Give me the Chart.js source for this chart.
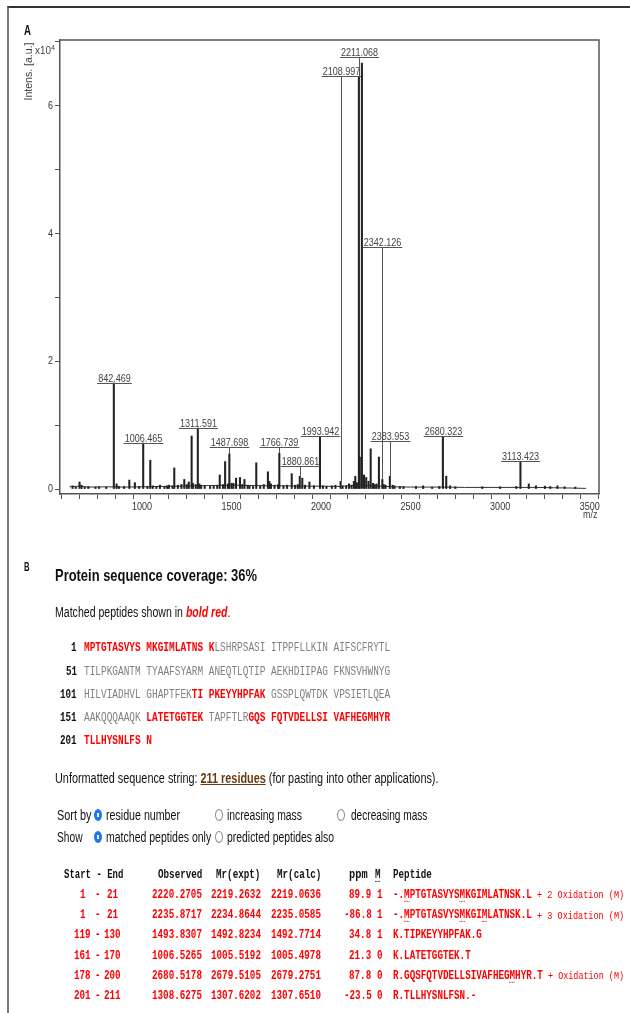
<!DOCTYPE html>
<html>
<head>
<meta charset="utf-8">
<script src="https://cdn.jsdelivr.net/npm/chart.js@4.4.1/dist/chart.umd.min.js"></script>
<style>
  body { margin: 0; background: #fff; width: 630px; height: 1013px; overflow: hidden; position: relative; }
  #spec { position: absolute; left: 0; top: 0; }
  .frame { position: absolute; left: 7px; top: 6px; width: 640px; height: 1020px;
           border-top: 2px solid #333; border-left: 2px solid #777; }
  .t { position: absolute; left: 0; top: 0; white-space: nowrap; line-height: 1;
       font-family: "Liberation Sans", Arial, sans-serif; font-size: 14px; color: #111; }
  .b { font-weight: bold; }
  .big { font-size: 16.5px; font-weight: bold; }
  .narrow { font-size: 11px; color: #444; }
  .mono { font-family: "Courier New", "Liberation Mono", monospace; font-size: 12.5px; }
  .seq { color: #808080; font-size: 12px; }
  .seq r { color: #ff0000; font-weight: bold; }
  .num { color: #111; font-weight: bold; font-size: 12px; }
  .hdr { color: #111; font-weight: bold; }
  .row { color: #ff0000; font-weight: bold; }
  .mod { color: #ff0000; font-size: 11.5px; }
  .mk { text-decoration: underline dotted; text-underline-offset: 3px; }
  .res { color: #6b3a10; font-weight: bold; text-decoration: underline; }
  input.rb { position: absolute; margin: 0; appearance: none; -webkit-appearance: none;
             width: 8px; height: 12px; border: 1px solid #8c8c8c; border-radius: 50%; background: #fff; box-sizing: border-box; }
  input.rb:checked { border-color: #1d78f0; background: radial-gradient(ellipse at center, #fff 0 26%, #1d78f0 34%); }
</style>
</head>
<body>
<canvas id="spec" width="630" height="540"></canvas>
<div class="frame"></div>
<script>
// ---- panel A: MALDI spectrum ----
const peakMz = [612, 630, 651, 662, 680, 700, 740, 760, 800, 842.5, 858, 871, 900, 929, 960, 984, 1006.5, 1030,
  1046, 1060, 1080, 1100, 1125, 1140, 1150, 1170, 1180, 1200, 1220, 1236, 1250, 1261, 1277, 1284, 1300, 1311.6,
  1320, 1330, 1350, 1380, 1400, 1420, 1434, 1452, 1464, 1480, 1487.7, 1500, 1510, 1525, 1547, 1560, 1572, 1590,
  1600, 1620, 1638, 1660, 1680, 1703, 1711, 1720, 1740, 1760, 1766.7, 1790, 1810, 1836, 1855, 1870, 1880.9, 1895,
  1910, 1935, 1960, 1993.9, 2010, 2030, 2060, 2080, 2109, 2120, 2140, 2156, 2170, 2183, 2191, 2200, 2211.1, 2216,
  2228, 2240, 2252, 2265, 2277, 2290, 2300, 2310, 2323, 2342.1, 2350, 2360, 2384, 2400, 2410, 2440, 2460, 2530,
  2570, 2620, 2660, 2680.3, 2699, 2720, 2750, 2900, 3000, 3090, 3113.4, 3160, 3200, 3250, 3280, 3320, 3360, 3420];
const peakInt = [500, 300, 1100, 600, 300, 400, 300, 350, 300, 16600, 800, 400, 400, 1400, 1000, 400, 7200, 400,
  4500, 500, 400, 600, 400, 500, 600, 500, 3300, 600, 700, 1500, 700, 1100, 8300, 900, 700, 9550,
  800, 600, 500, 400, 500, 600, 2200, 700, 4300, 800, 5500, 900, 900, 1700, 1800, 700, 1500, 600,
  500, 400, 4100, 500, 700, 2700, 1200, 800, 600, 700, 5600, 500, 600, 2400, 600, 700, 2000, 1700,
  600, 1100, 500, 8250, 500, 400, 500, 600, 1200, 500, 500, 800, 600, 1200, 2000, 1000, 64500, 5000,
  66700, 2200, 1800, 1200, 6300, 900, 700, 800, 5000, 1500, 700, 600, 2000, 600, 500, 400, 400, 400,
  500, 300, 400, 8250, 2000, 500, 350, 350, 350, 400, 4300, 800, 500, 450, 400, 500, 350, 300];

const baseMz = [595, 650, 700, 800, 900, 1000, 1100, 1200, 1300, 1400, 1500, 1600, 1700, 1800, 1900, 2000, 2100,
  2200, 2300, 2400, 2500, 2600, 2700, 2800, 2900, 3000, 3100, 3200, 3300, 3400, 3480];
const baseInt = [350, 450, 300, 350, 300, 350, 400, 450, 500, 550, 600, 550, 500, 500, 450, 450, 400,
  600, 500, 350, 300, 300, 300, 250, 250, 250, 250, 250, 200, 150, 100];

// annotated peaks: m/z text and the height of the label's underline
const labelMz = [842.469, 1006.465, 1311.591, 1487.698, 1766.739, 1880.861, 1993.942, 2108.997, 2211.068,
  2342.126, 2383.953, 2680.323, 3113.423];
const labelLevel = [16600, 7200, 9550, 6620, 6620, 3600, 8290, 64630, 67650, 37870, 7510, 8290, 4380];

const yTickValues = [0, 10000, 20000, 30000, 40000, 50000, 60000, 70000];
const yTickLabels = ['0', '', '2', '', '4', '', '6', ''];
const xTickValues = [];
for (let v = 600; v <= 3500; v += 100) xTickValues.push(v);
const xTickLabels = xTickValues.map(v => (v % 500 === 0 && v >= 1000 ? String(v) : ''));

const labelFont = '11px "Liberation Sans", Arial, sans-serif';
const squeeze = 0.82;

function narrowText(ctx, text, x, y, align) {
  ctx.save();
  ctx.translate(x, y);
  ctx.scale(squeeze, 1);
  ctx.textAlign = align;
  ctx.fillText(text, 0, 0);
  ctx.restore();
}

const peakLabels = {
  id: 'peakLabels',
  afterDraw(chart) {
    const { ctx, scales: { x, y }, chartArea } = chart;
    ctx.save();
    // frame top and right
    ctx.strokeStyle = '#555';
    ctx.lineWidth = 1.5;
    ctx.beginPath();
    ctx.moveTo(chartArea.left, chartArea.top);
    ctx.lineTo(chartArea.right, chartArea.top);
    ctx.lineTo(chartArea.right, chartArea.bottom);
    ctx.stroke();

    ctx.font = labelFont;
    ctx.textBaseline = 'middle';
    ctx.fillStyle = '#333';
    yTickValues.forEach((v, i) => {
      if (yTickLabels[i]) narrowText(ctx, yTickLabels[i], chartArea.left - 7, y.getPixelForValue(v), 'right');
    });
    xTickValues.forEach((v, i) => {
      if (xTickLabels[i]) narrowText(ctx, xTickLabels[i], x.getPixelForValue(v), 507, 'center');
    });

    ctx.textBaseline = 'alphabetic';
    labelMz.forEach((m, i) => {
      const text = m.toFixed(3);
      const px = Math.round(x.getPixelForValue(m)) + 0.5;
      const py = Math.round(y.getPixelForValue(labelLevel[i])) + 0.5;
      let k = -1;
      peakMz.forEach((pm, j) => { if (Math.abs(pm - m) < 3) k = j; });
      const top = y.getPixelForValue(k >= 0 ? peakInt[k] : 0);
      const w = ctx.measureText(text).width * squeeze;
      ctx.strokeStyle = '#555';
      ctx.lineWidth = 1;
      ctx.beginPath();
      ctx.moveTo(px, py);
      ctx.lineTo(px, top);
      ctx.moveTo(px - w / 2 - 1, py);
      ctx.lineTo(px + w / 2 + 1, py);
      ctx.stroke();
      ctx.fillStyle = '#444';
      narrowText(ctx, text, px, py - 1.5, 'center');
    });
    ctx.restore();
  }
};

new Chart(document.getElementById('spec'), {
  data: {
    datasets: [
      {
        type: 'bar',
        data: peakMz.map((m, i) => ({ x: m, y: peakInt[i] })),
        backgroundColor: '#222',
        barThickness: 1.4,
        grouped: false
      },
      {
        type: 'line',
        data: baseMz.map((m, i) => ({ x: m, y: baseInt[i] })),
        borderColor: '#333',
        borderWidth: 1,
        pointRadius: 0,
        tension: 0
      }
    ]
  },
  options: {
    responsive: false,
    animation: false,
    devicePixelRatio: 1,
    events: [],
    layout: { padding: { left: 30, top: 40, right: 31, bottom: 16 } },
    plugins: { legend: { display: false }, tooltip: { enabled: false } },
    scales: {
      x: {
        type: 'linear',
        min: 592,
        max: 3502,
        afterFit: s => { s.height = 30; },
        afterBuildTicks: s => { s.ticks = xTickValues.map(v => ({ value: v })); },
        border: { display: true, color: '#555', width: 1.5 },
        grid: { drawOnChartArea: false, drawTicks: true, tickLength: 5, color: '#555' },
        ticks: { autoSkip: false, maxRotation: 0, callback: () => '' }
      },
      y: {
        min: -780,
        max: 70300,
        afterFit: s => { s.width = 30; },
        afterBuildTicks: s => { s.ticks = yTickValues.map(v => ({ value: v })); },
        border: { display: true, color: '#555', width: 1.5 },
        grid: { drawOnChartArea: false, drawTicks: true, tickLength: 5, color: '#555' },
        ticks: { autoSkip: false, callback: () => '' }
      }
    }
  },
  plugins: [peakLabels]
});

// ---- text placement helper ----
function put(html, x, yc, opts) {
  opts = opts || {};
  const el = document.createElement('div');
  el.className = 't ' + (opts.cls || '');
  el.innerHTML = html;
  document.body.appendChild(el);
  const r = el.getBoundingClientRect();
  let sx = 1;
  if (opts.w) sx = opts.w / r.width;
  if (opts.cw) sx = opts.cw * el.textContent.length / r.width;
  const w = r.width * sx;
  let left = x;
  if (opts.align === 'right') left = x - w;
  if (opts.align === 'center') left = x - w / 2;
  el.style.left = left + 'px';
  el.style.top = (yc - r.height / 2) + 'px';
  el.style.transformOrigin = '0 50%';
  el.style.transform = 'scaleX(' + sx + ')';
  return el;
}

function radio(cx, cy, checked) {
  const el = document.createElement('input');
  el.type = 'radio';
  el.className = 'rb';
  el.checked = checked;
  el.style.left = (cx - 4) + 'px';
  el.style.top = (cy - 6) + 'px';
  document.body.appendChild(el);
}

// panel A texts
put('A', 24, 30, { cls: 'b', w: 7 });
const yTitle = put('Intens. [a.u.]', 0, 0, { cls: 'narrow' });
(function () {
  const r = yTitle.getBoundingClientRect();
  yTitle.style.left = (28 - r.width / 2) + 'px';
  yTitle.style.top = (71 - r.height / 2) + 'px';
  yTitle.style.transformOrigin = '50% 50%';
  yTitle.style.transform = 'rotate(-90deg) scaleX(' + (58 / r.width) + ')';
})();
put('x10<sup style="font-size:8px;vertical-align:4px">4</sup>', 35, 50, { cls: 'narrow', w: 20 });
put('m/z', 583, 514, { cls: 'narrow', w: 14.5 });

// ---- panel B: protein sequence coverage ----
put('B', 24, 568, { cls: 'b', w: 6.5 }).style.fontSize = '12px';
put('Protein sequence coverage: 36%', 54.5, 575, { cls: 'big', w: 202 });
put('Matched peptides shown in <b><i style="color:#ff0000">bold red</i></b>.', 54.5, 611.7, { w: 175.5 });

const seqNums = ['1', '51', '101', '151', '201'];
const seqLines = [
  '<r>MPTGTASVYS MKGIMLATNS K</r>LSHRPSASI ITPPFLLKIN AIFSCFRYTL',
  'TILPKGANTM TYAAFSYARM ANEQTLQTIP AEKHDIIPAG FKNSVHWNYG',
  'HILVIADHVL GHAPTFEK<r>TI PKEYYHPFAK</r> GSSPLQWTDK VPSIETLQEA',
  'AAKQQQAAQK <r>LATETGGTEK</r> TAPFTLR<r>GQS FQTVDELLSI VAFHEGMHYR</r>',
  '<r>TLLHYSNLFS N</r>'
];
const seqY = [648, 671.5, 695, 718.2, 741.3];
seqLines.forEach((s, i) => {
  put(seqNums[i], 76.7, seqY[i], { cls: 'mono num', cw: 5.55, align: 'right' });
  put(s, 84, seqY[i], { cls: 'mono seq', cw: 5.67 });
});

put('Unformatted sequence string: <span class="res">211 residues</span> (for pasting into other applications).',
  54.5, 778, { w: 383.5 });

put('Sort by', 56.5, 815, { w: 34.5 });
radio(97.7, 815, true);
put('residue number', 105.8, 815, { w: 74 });
radio(219, 815, false);
put('increasing mass', 227, 815, { w: 75 });
radio(341, 815, false);
put('decreasing mass', 350.6, 815, { w: 76.4 });

put('Show', 56.5, 837, { w: 25.5 });
radio(97.7, 837, true);
put('matched peptides only', 105.8, 837, { w: 105.2 });
radio(218.5, 837, false);
put('predicted peptides also', 227, 837, { w: 107 });

// matched peptide table
const hdrY = 875;
put('Start - End', 93.4, hdrY, { cls: 'mono hdr', cw: 5.4, align: 'center' });
put('Observed', 202, hdrY, { cls: 'mono hdr', cw: 5.55, align: 'right' });
put('Mr(expt)', 260.5, hdrY, { cls: 'mono hdr', cw: 5.55, align: 'right' });
put('Mr(calc)', 321, hdrY, { cls: 'mono hdr', cw: 5.55, align: 'right' });
put('ppm', 368, hdrY, { cls: 'mono hdr', cw: 6.2, align: 'right' });
put('<span class="mk">M</span>', 378, hdrY, { cls: 'mono hdr', cw: 5.55, align: 'center' });
put('Peptide', 392.6, hdrY, { cls: 'mono hdr', cw: 5.55 });

const rowStart = [1, 1, 119, 161, 178, 201];
const rowEnd = [21, 21, 130, 170, 200, 211];
const rowObserved = ['2220.2705', '2235.8717', '1493.8307', '1006.5265', '2680.5178', '1308.6275'];
const rowMrExpt = ['2219.2632', '2234.8644', '1492.8234', '1005.5192', '2679.5105', '1307.6202'];
const rowMrCalc = ['2219.0636', '2235.0585', '1492.7714', '1005.4978', '2679.2751', '1307.6510'];
const rowPpm = ['89.9', '-86.8', '34.8', '21.3', '87.8', '-23.5'];
const rowMiss = ['1', '1', '1', '0', '0', '0'];
const rowPeptide = ['-.MPTGTASVYSMKGIMLATNSK.L', '-.MPTGTASVYSMKGIMLATNSK.L', 'K.TIPKEYYHPFAK.G',
  'K.LATETGGTEK.T', 'R.GQSFQTVDELLSIVAFHEGMHYR.T', 'R.TLLHYSNLFSN.-'];
const rowMod = ['+ 2 Oxidation (M)', '+ 3 Oxidation (M)', '', '', '+ Oxidation (M)', ''];
const rowMarks = [[2, 12], [2, 12, 16], [], [], [21], []];

rowStart.forEach((st, i) => {
  const yc = 895 + i * 20.3;
  put(String(st), 82.5, yc, { cls: 'mono row', cw: 5.55, align: 'center' });
  put('-', 97.5, yc, { cls: 'mono row', cw: 5.55, align: 'center' });
  put(String(rowEnd[i]), 112.5, yc, { cls: 'mono row', cw: 5.55, align: 'center' });
  put(rowObserved[i], 202, yc, { cls: 'mono row', cw: 5.55, align: 'right' });
  put(rowMrExpt[i], 260.5, yc, { cls: 'mono row', cw: 5.55, align: 'right' });
  put(rowMrCalc[i], 321, yc, { cls: 'mono row', cw: 5.55, align: 'right' });
  put(rowPpm[i], 371.5, yc, { cls: 'mono row', cw: 5.55, align: 'right' });
  put(rowMiss[i], 380, yc, { cls: 'mono row', cw: 5.55, align: 'center' });
  const pep = rowPeptide[i].split('').map((c, j) =>
    rowMarks[i].indexOf(j) >= 0 ? '<span class="mk">' + c + '</span>' : c).join('');
  put(pep, 392.6, yc, { cls: 'mono row', cw: 5.55 });
  if (rowMod[i]) {
    const endX = 392.6 + rowPeptide[i].length * 5.55;
    put(rowMod[i], 624, yc, { cls: 'mono mod', w: 624 - endX - 5.5, align: 'right' });
  }
});
</script>
</body>
</html>
